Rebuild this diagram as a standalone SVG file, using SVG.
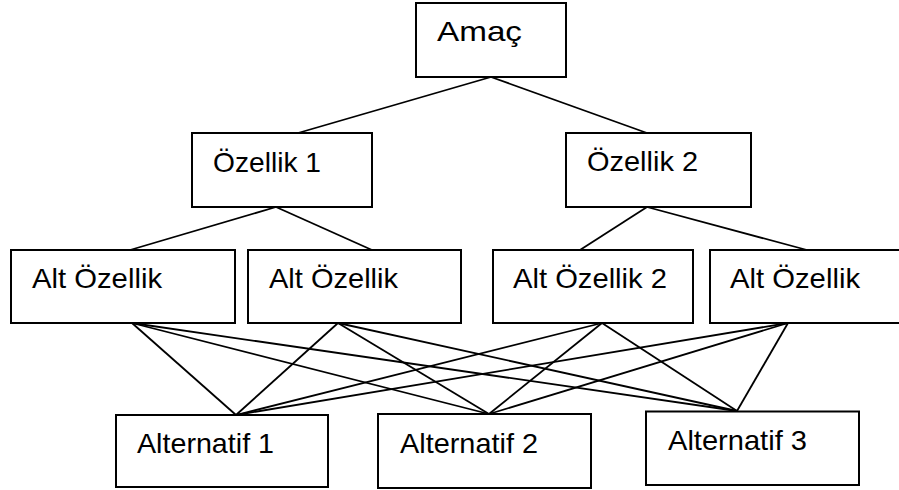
<svg xmlns="http://www.w3.org/2000/svg" width="899" height="490" viewBox="0 0 899 490">
  <style>
    .box { fill: #ffffff; stroke: #000000; stroke-width: 2; }
    .link { stroke: #000000; stroke-width: 1.8; fill: none; }
    .lbl { font-family: "Liberation Sans", Arial, sans-serif; font-size: 28px; fill: #000000; }
  </style>
  <rect width="899" height="490" fill="#ffffff"/>

  <!-- connectors between levels -->
  <g id="connectors">
    <!-- goal to criteria -->
    <line class="link" x1="491" y1="77" x2="298" y2="133"/>
    <line class="link" x1="491" y1="77" x2="647" y2="133"/>
    <!-- criteria to sub-criteria -->
    <line class="link" x1="276" y1="207" x2="130" y2="250"/>
    <line class="link" x1="276" y1="207" x2="372" y2="250"/>
    <line class="link" x1="647" y1="207" x2="580" y2="250"/>
    <line class="link" x1="647" y1="207" x2="807" y2="250"/>
    <!-- sub-criteria to alternatives -->
    <line class="link" x1="132" y1="323" x2="236" y2="415"/>
    <line class="link" x1="132" y1="323" x2="489" y2="414"/>
    <line class="link" x1="132" y1="323" x2="737" y2="411"/>
    <line class="link" x1="338" y1="323" x2="236" y2="415"/>
    <line class="link" x1="338" y1="323" x2="489" y2="414"/>
    <line class="link" x1="338" y1="323" x2="737" y2="411"/>
    <line class="link" x1="602" y1="323" x2="236" y2="415"/>
    <line class="link" x1="602" y1="323" x2="489" y2="414"/>
    <line class="link" x1="602" y1="323" x2="737" y2="411"/>
    <line class="link" x1="788" y1="323" x2="236" y2="415"/>
    <line class="link" x1="788" y1="323" x2="489" y2="414"/>
    <line class="link" x1="788" y1="323" x2="737" y2="411"/>
  </g>

  <g id="amac">
    <rect class="box" x="416" y="3" width="150" height="74"/>
    <text class="lbl" x="437" y="40.5" font-size="25" textLength="85" lengthAdjust="spacingAndGlyphs">Amaç</text>
  </g>

  <g id="ozellik1">
    <rect class="box" x="192" y="133" width="180" height="74"/>
    <text class="lbl" x="213" y="172" textLength="108" lengthAdjust="spacingAndGlyphs">Özellik 1</text>
  </g>

  <g id="ozellik2">
    <rect class="box" x="566" y="133" width="185" height="74"/>
    <text class="lbl" x="587" y="171" textLength="111" lengthAdjust="spacingAndGlyphs">Özellik 2</text>
  </g>

  <g id="alt-ozellik-a">
    <rect class="box" x="11" y="250" width="224" height="73"/>
    <text class="lbl" x="32" y="288" textLength="130" lengthAdjust="spacingAndGlyphs">Alt Özellik</text>
  </g>

  <g id="alt-ozellik-b">
    <rect class="box" x="248" y="250" width="213" height="73"/>
    <text class="lbl" x="269" y="288" textLength="129" lengthAdjust="spacingAndGlyphs">Alt Özellik</text>
  </g>

  <g id="alt-ozellik-c">
    <rect class="box" x="493" y="250" width="200" height="73"/>
    <text class="lbl" x="513" y="288" textLength="154" lengthAdjust="spacingAndGlyphs">Alt Özellik 2</text>
  </g>

  <g id="alt-ozellik-d">
    <rect class="box" x="710" y="250" width="200" height="73"/>
    <text class="lbl" x="730" y="288" textLength="130" lengthAdjust="spacingAndGlyphs">Alt Özellik</text>
  </g>

  <g id="alternatif1">
    <rect class="box" x="116" y="415" width="212" height="72"/>
    <text class="lbl" x="137" y="452.5" textLength="137" lengthAdjust="spacingAndGlyphs">Alternatif 1</text>
  </g>

  <g id="alternatif2">
    <rect class="box" x="378" y="414" width="213" height="74"/>
    <text class="lbl" x="400" y="452.5" textLength="138" lengthAdjust="spacingAndGlyphs">Alternatif 2</text>
  </g>

  <g id="alternatif3">
    <rect class="box" x="646" y="411.5" width="213" height="73.5"/>
    <text class="lbl" x="668" y="450" textLength="139" lengthAdjust="spacingAndGlyphs">Alternatif 3</text>
  </g>
</svg>
